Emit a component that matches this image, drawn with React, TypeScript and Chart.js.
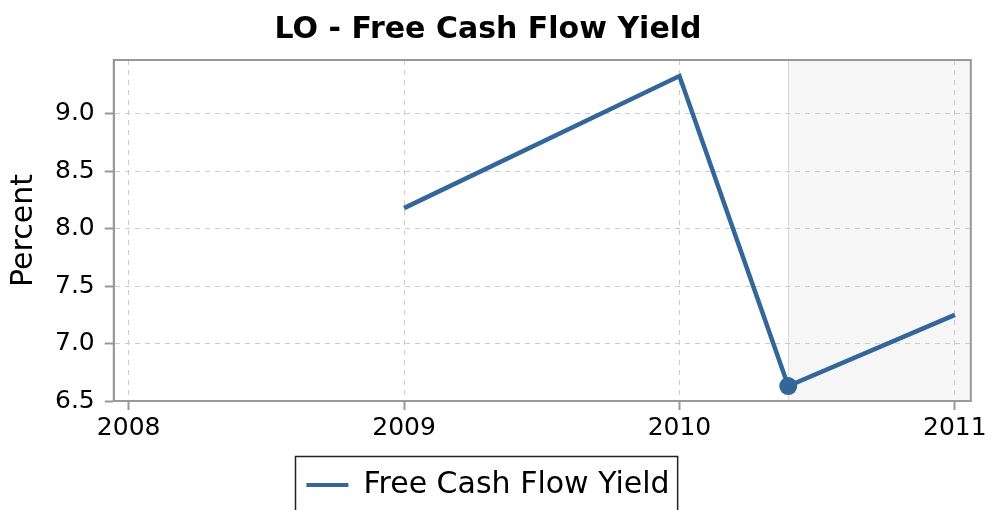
import React, { useEffect, useRef } from "react";
import { Chart, registerables } from "chart.js";

Chart.register(...registerables);

const years = [2009, 2010, 2010.395, 2011];
const fcfYield = [8.18, 9.33, 6.63, 7.25];
const markerRadius = [0, 0, 9, 0];
const xTicks = [2008, 2009, 2010, 2011];
const yTicks = [6.5, 7.0, 7.5, 8.0, 8.5, 9.0];
const xRange = [2007.946, 2011.058];
const yRange = [6.5, 9.47];
const shadeRange = [2010.395, 2011.058];

const FONT = "'DejaVu Sans', sans-serif";
const LINE = "#336699";
const GRID_DASH = [5, 5];

export default function App() {
  const ref = useRef<HTMLCanvasElement | null>(null);
  useEffect(() => {
    if (!ref.current) return;
    const shade = {
      id: "shade",
      beforeDraw(chart: any) {
        const { ctx, chartArea, scales } = chart;
        const x0 = scales.x.getPixelForValue(shadeRange[0]);
        const x1 = Math.min(scales.x.getPixelForValue(shadeRange[1]), chartArea.right);
        ctx.save();
        ctx.fillStyle = "#f6f6f6";
        ctx.fillRect(x0, chartArea.top, x1 - x0, chartArea.bottom - chartArea.top);
        ctx.strokeStyle = "#d8d8d8";
        ctx.lineWidth = 1;
        ctx.beginPath();
        ctx.moveTo(Math.round(x0) + 0.5, chartArea.top);
        ctx.lineTo(Math.round(x0) + 0.5, chartArea.bottom);
        ctx.stroke();
        ctx.restore();
      },
      afterDraw(chart: any) {
        const { ctx, chartArea, legend } = chart;
        ctx.save();
        ctx.strokeStyle = "#999999";
        ctx.lineWidth = 2;
        ctx.strokeRect(chartArea.left, chartArea.top, chartArea.right - chartArea.left, chartArea.bottom - chartArea.top);
        if (legend && legend.legendHitBoxes && legend.legendHitBoxes.length) {
          const hb = legend.legendHitBoxes[0];
          ctx.strokeStyle = "#222222";
          ctx.lineWidth = 1.5;
          ctx.strokeRect(Math.round(hb.left) - 10.5, legend.top - 2.5, hb.width + 19, legend.height + 30);
        }
        ctx.restore();
      },
    };
    const chart = new Chart(ref.current, {
      type: "line",
      data: {
        datasets: [
          {
            label: "Free Cash Flow Yield",
            data: years.map((x, i) => ({ x, y: fcfYield[i] })),
            borderColor: LINE,
            backgroundColor: LINE,
            borderWidth: 4.5,
            pointRadius: markerRadius,
            pointBackgroundColor: LINE,
            pointBorderWidth: 0,
            tension: 0,
          },
        ],
      },
      options: {
        animation: false,
        responsive: false,
        layout: { padding: { left: 4, right: 18, top: 0, bottom: 0 } },
        plugins: {
          title: {
            display: true,
            text: "LO - Free Cash Flow Yield",
            color: "#000",
            font: { family: FONT, size: 30, weight: "bold" },
            padding: { top: 12, bottom: 12 },
          },
          legend: {
            position: "bottom",
            labels: {
              color: "#000",
              font: { family: FONT, size: 30 },
              boxWidth: 42,
              boxHeight: 4,
              padding: 11,
              generateLabels: () => [
                {
                  text: "Free Cash Flow Yield",
                  fillStyle: LINE,
                  strokeStyle: LINE,
                  lineWidth: 0,
                  hidden: false,
                  datasetIndex: 0,
                } as any,
              ],
            },
          },
          tooltip: { enabled: false },
        },
        scales: {
          x: {
            type: "linear",
            min: xRange[0],
            max: xRange[1],
            afterBuildTicks: (s: any) => {
              s.ticks = xTicks.map((v) => ({ value: v }));
            },
            afterFit: (s: any) => {
              s.height += 13;
            },
            ticks: {
              color: "#000",
              font: { family: FONT, size: 25 },
              callback: (v: any) => String(v),
              maxRotation: 0,
              autoSkip: false,
              padding: 3,
            },
            grid: {
              color: "#cccccc",
              lineWidth: 1,
              tickLength: 9,
              tickColor: "#999999",
              tickWidth: 2,
              tickBorderDash: [],
            },
            border: { display: true, color: "#999999", width: 2, dash: GRID_DASH },
          },
          y: {
            type: "linear",
            min: yRange[0],
            max: yRange[1],
            afterBuildTicks: (s: any) => {
              s.ticks = yTicks.map((v) => ({ value: v }));
            },
            ticks: {
              color: "#000",
              font: { family: FONT, size: 25 },
              callback: (v: any) => Number(v).toFixed(1),
              autoSkip: false,
              padding: 10,
            },
            title: {
              display: true,
              text: "Percent",
              color: "#000",
              font: { family: FONT, size: 30 },
              padding: { top: 2, bottom: 3 },
            },
            grid: {
              color: "#cccccc",
              lineWidth: 1,
              tickLength: 9,
              tickColor: "#999999",
              tickWidth: 2,
              tickBorderDash: [],
            },
            border: { display: true, color: "#999999", width: 2, dash: GRID_DASH },
          },
        },
      },
      plugins: [shade],
    });
    return () => chart.destroy();
  }, []);
  return (
    <div style={{ position: "fixed", left: 0, top: 0, width: 990, height: 510, background: "#fff" }}>
      <canvas ref={ref} width={990} height={510} style={{ display: "block" }} />
    </div>
  );
}
